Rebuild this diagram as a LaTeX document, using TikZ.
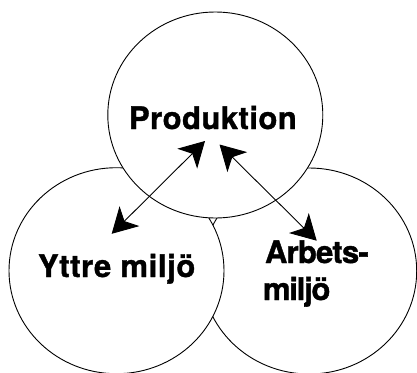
\documentclass[tikz,border=0pt]{standalone}
\usepackage{fontspec}
\setmainfont{TeX Gyre Heros}
\usetikzlibrary{arrows.meta}
\tikzset{
  circ/.style={draw=black, fill=white, line width=0.9pt},
  lbl/.style={inner sep=0pt, outer sep=0pt, anchor=base west, font=\fontsize{31}{37}\selectfont\bfseries},
  conn/.style={line width=0.9pt, {Stealth[length=25pt,width=28pt,inset=7pt]}-{Stealth[length=25pt,width=28pt,inset=7pt]}}
}
\begin{document}
\begin{tikzpicture}[x=1pt,y=-1pt]
\useasboundingbox (0,0) rectangle (417,372);
\draw[circ] (309.2,271) ellipse [x radius=107.5, y radius=103];
\draw[circ] (116.5,270.7) ellipse [x radius=107.5, y radius=103];
\draw[circ] (215.3,115) ellipse [x radius=107.5, y radius=103];
\node[lbl] (prod) at (129,129) {\addfontfeature{LetterSpace=1.5,FakeBold=1.2}Produktion};
\node[lbl] (yttre) at (38,277) {\addfontfeature{LetterSpace=2.0,FakeBold=1.2}Yttre miljö};
\node[lbl] (arb1) at (265,263) {\addfontfeature{LetterSpace=-2.5,FakeBold=1.2}Arbets-};
\node[lbl] (arb2) at (263,300) {\addfontfeature{LetterSpace=-4,FakeBold=1.2}miljö};
\coordinate (pl) at (205,141);
\coordinate (yl) at (111.7,233.8);
\coordinate (pr) at (219.5,144.5);
\coordinate (ar) at (316.7,240.7);
\draw[conn] (yl) -- (pl);
\draw[conn] (pr) -- (ar);
\end{tikzpicture}
\end{document}
